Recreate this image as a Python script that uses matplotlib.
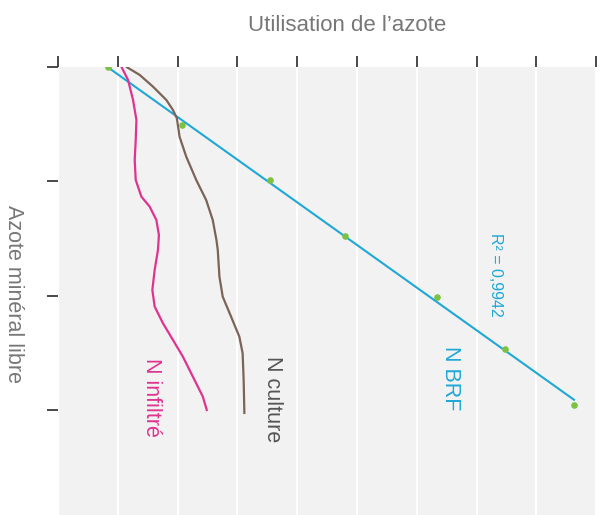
import numpy as np
import matplotlib.pyplot as plt

plt.rcParams['font.family'] = ['Liberation Sans', 'DejaVu Sans']

# points N BRF (utilisation, azote mineral)
brf_x = [0.83, 2.08, 3.55, 4.80, 6.34, 7.48, 8.63]
brf_y = [0.00, 0.51, 0.99, 1.48, 2.01, 2.47, 2.96]

# courbe N culture
cult_x = [1.155, 1.367, 1.588, 1.812, 1.922, 1.988, 2.033, 2.145, 2.312, 2.478,
          2.588, 2.65, 2.672, 2.70, 2.755, 2.895, 3.033, 3.088, 3.105, 3.117]
cult_y = [0.003, 0.07, 0.172, 0.289, 0.376, 0.449, 0.61, 0.785, 0.989, 1.164,
          1.339, 1.514, 1.601, 1.835, 2.01, 2.185, 2.36, 2.505, 2.738, 3.027]

# courbe N infiltre
inf_x = [1.062, 1.172, 1.255, 1.312, 1.30, 1.283, 1.30, 1.395, 1.533, 1.645, 1.688,
         1.672, 1.617, 1.578, 1.617, 1.755, 1.922, 2.088, 2.255, 2.422, 2.488]
inf_y = [0.0, 0.114, 0.289, 0.464, 0.639, 0.814, 0.989, 1.135, 1.222, 1.339, 1.47,
         1.601, 1.776, 1.951, 2.097, 2.242, 2.388, 2.534, 2.709, 2.884, 3.001]

x_ticks = list(range(10))
y_ticks = [0, 1, 2, 3]

fig = plt.figure(figsize=(6.04, 5.15), dpi=100)
ax = fig.add_axes([0.096, 0.0, 0.891, 0.870])
ax.set_facecolor('#f2f2f2')

ax.set_xlim(0, 9)
ax.set_ylim(3.92, 0)
ax.xaxis.tick_top()
ax.set_xticks(x_ticks)
ax.set_yticks(y_ticks)
ax.set_xticklabels([])
ax.set_yticklabels([])
ax.tick_params(axis='both', direction='out', length=8, width=1.3, color='#3a3a3a')
for s in ax.spines.values():
    s.set_visible(False)
ax.grid(axis='x', color='white', linewidth=1.5)
ax.set_axisbelow(True)

# droite de regression
coef = np.polyfit(brf_x, brf_y, 1)
xs = np.array([brf_x[0], brf_x[-1]])
ax.plot(xs, np.polyval(coef, xs), color='#1fa8d6', linewidth=1.5, zorder=3)
ax.scatter(brf_x, brf_y, color='#7cc242', s=14, zorder=4)

ax.plot(cult_x, cult_y, color='#7b6457', linewidth=1.6, zorder=3)
ax.plot(inf_x, inf_y, color='#e0338f', linewidth=1.6, zorder=3)

fig.text(0.575, 0.951, "Utilisation de l\u2019azote", ha='center', va='center',
         fontsize=16, color='#777777')
fig.text(0.022, 0.43, "Azote minéral libre", ha='center', va='center',
         rotation=-90, fontsize=15.5, color='#777777')

ax.text(3.58, 2.91, "N culture", rotation=-90, ha='center', va='center',
        fontsize=15.5, color='#555555')
ax.text(1.57, 2.89, "N infiltré", rotation=-90, ha='center', va='center',
        fontsize=15.5, color='#e0338f')
ax.text(6.57, 2.72, "N BRF", rotation=-90, ha='center', va='center',
        fontsize=15.5, color='#1fa8d6')
ax.text(7.32, 1.82, "R² = 0,9942", rotation=-90, ha='center', va='center',
        fontsize=11.5, color='#1fa8d6')

fig.savefig('out.png', dpi=100)
